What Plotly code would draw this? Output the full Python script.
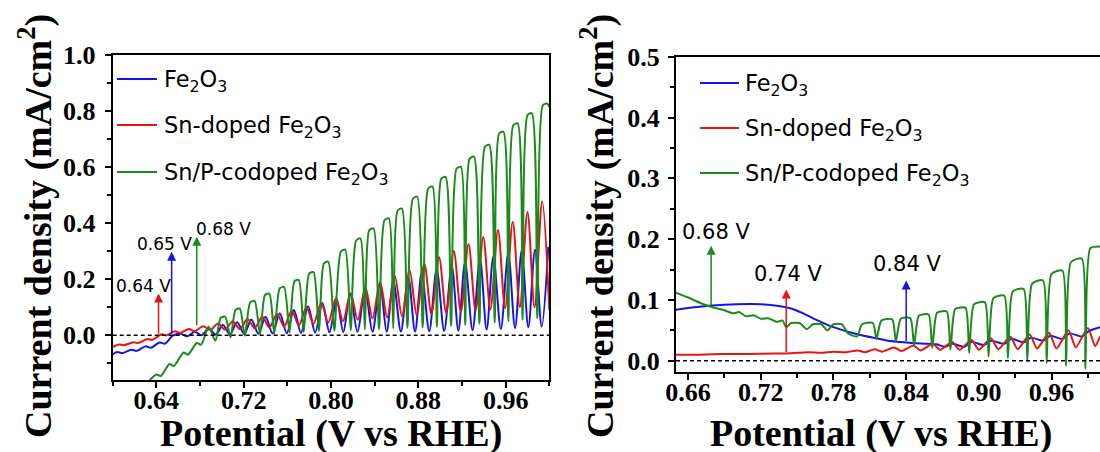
import plotly.graph_objects as go

# ---------------- Left panel data (V vs RHE, mA/cm2) ----------------
L_FE_X = [0.600, 0.604, 0.609, 0.617, 0.622, 0.630, 0.635, 0.643, 0.648, 0.655,
          0.662, 0.6685, 0.675, 0.6815, 0.688, 0.6945, 0.701, 0.7075, 0.714, 0.7205,
          0.727, 0.7335, 0.740, 0.7465, 0.753, 0.7595, 0.766, 0.7725, 0.779, 0.7855,
          0.7921, 0.7986, 0.8052, 0.8113, 0.8174, 0.8243, 0.8312, 0.838, 0.8449, 0.851,
          0.8571, 0.864, 0.8708, 0.877, 0.8831, 0.890, 0.8968, 0.9037, 0.9106, 0.9167,
          0.9228, 0.9297, 0.9365, 0.9426, 0.9487, 0.9556, 0.9624, 0.9686, 0.9747, 0.9808,
          0.9869, 0.993, 0.9991]
L_FE_Y = [-0.068, -0.060, -0.064, -0.052, -0.056, -0.040, -0.045, -0.026, -0.030, -0.002,
          0.005, -0.004, 0.012, 0.000, 0.024, 0.002, 0.036, 0.003, 0.046, 0.004,
          0.056, 0.005, 0.066, 0.006, 0.078, 0.007, 0.090, 0.008, 0.103, 0.009,
          0.115, 0.010, 0.128, 0.011, 0.148, 0.012, 0.165, 0.012, 0.183, 0.012,
          0.195, 0.013, 0.207, 0.013, 0.222, 0.014, 0.236, 0.015, 0.248, 0.016,
          0.260, 0.018, 0.272, 0.020, 0.280, 0.022, 0.292, 0.025, 0.302, 0.028,
          0.305, 0.030, 0.315]

L_SN_X = [0.600, 0.606, 0.610, 0.619, 0.623, 0.632, 0.636, 0.645, 0.649, 0.657,
          0.662, 0.670, 0.675, 0.683, 0.6895, 0.6965, 0.703, 0.710, 0.7165, 0.7235,
          0.730, 0.737, 0.7435, 0.7505, 0.757, 0.764, 0.7705, 0.7775, 0.784, 0.791,
          0.7975, 0.8045, 0.811, 0.818, 0.8245, 0.8315, 0.838, 0.845, 0.8515, 0.8585,
          0.865, 0.872, 0.8785, 0.8855, 0.892, 0.899, 0.9055, 0.9125, 0.919, 0.926,
          0.9325, 0.9395, 0.946, 0.953, 0.9595, 0.9665, 0.973, 0.980, 0.9865, 0.9935,
          1.000]
L_SN_Y = [-0.042, -0.033, -0.036, -0.025, -0.028, -0.014, -0.017, 0.003, -0.001, 0.014,
          0.008, 0.022, 0.014, 0.032, 0.018, 0.042, 0.020, 0.050, 0.022, 0.058,
          0.025, 0.066, 0.028, 0.076, 0.031, 0.088, 0.035, 0.100, 0.040, 0.115,
          0.045, 0.132, 0.050, 0.150, 0.055, 0.170, 0.060, 0.190, 0.064, 0.210,
          0.068, 0.232, 0.072, 0.255, 0.076, 0.278, 0.080, 0.300, 0.084, 0.325,
          0.088, 0.350, 0.092, 0.375, 0.096, 0.405, 0.100, 0.440, 0.100, 0.478,
          0.090]

# Sn/P-codoped: light-on plateaus read as (start, end) pairs, dark troughs between
L_SNP_X = [0.634, 0.640, 0.644, 0.652, 0.656, 0.665, 0.669, 0.677, 0.681, 0.688, 0.694,
           0.699, 0.703, 0.708, 0.7125, 0.7165, 0.721, 0.726, 0.730, 0.735,
           0.7395, 0.7435, 0.748, 0.753, 0.757, 0.762, 0.7665, 0.7705, 0.775,
           0.780, 0.784, 0.789, 0.7935, 0.7975, 0.803, 0.809, 0.813, 0.818,
           0.823, 0.827, 0.831, 0.835, 0.839, 0.844, 0.849, 0.853, 0.857,
           0.861, 0.865, 0.870, 0.875, 0.879, 0.884, 0.889, 0.893, 0.897,
           0.901, 0.905, 0.910, 0.915, 0.919, 0.923, 0.927, 0.931, 0.936,
           0.941, 0.945, 0.950, 0.954, 0.958, 0.9625, 0.967, 0.971, 0.9755,
           0.980, 0.984, 0.989, 0.994, 0.998, 1.000]
L_SNP_Y = [-0.160, -0.140, -0.146, -0.103, -0.110, -0.062, -0.070, -0.028, -0.034, 0.030, -0.020,
           0.062, 0.066, -0.008, 0.090, 0.095, -0.002, 0.117, 0.122, 0.003,
           0.143, 0.148, 0.006, 0.167, 0.172, 0.009, 0.192, 0.197, 0.012,
           0.220, 0.225, 0.014, 0.256, 0.262, 0.016, 0.298, 0.305, 0.018,
           0.338, 0.345, 0.020, 0.374, 0.381, 0.022, 0.410, 0.417, 0.024,
           0.445, 0.452, 0.026, 0.487, 0.494, 0.028, 0.523, 0.530, 0.030,
           0.558, 0.565, 0.033, 0.594, 0.601, 0.036, 0.630, 0.637, 0.040,
           0.672, 0.679, 0.045, 0.719, 0.726, 0.050, 0.749, 0.756, 0.055,
           0.785, 0.792, 0.060, 0.820, 0.827, 0.815]

# ---------------- Right panel data ----------------
R_FE_X = [0.650, 0.665, 0.680, 0.700, 0.720, 0.735, 0.745, 0.755, 0.765, 0.775,
          0.785, 0.795, 0.805, 0.815, 0.825, 0.835, 0.845, 0.855, 0.865, 0.872,
          0.878, 0.888, 0.894, 0.904, 0.910, 0.921, 0.927, 0.937, 0.943, 0.953,
          0.959, 0.969, 0.975, 0.985, 0.991, 1.000]
R_FE_Y = [0.084, 0.088, 0.091, 0.093, 0.093, 0.090, 0.086, 0.078, 0.068, 0.059,
          0.052, 0.046, 0.041, 0.037, 0.033, 0.031, 0.029, 0.028, 0.027, 0.023,
          0.028, 0.023, 0.031, 0.026, 0.033, 0.028, 0.036, 0.030, 0.038, 0.033,
          0.041, 0.036, 0.045, 0.040, 0.049, 0.055]

R_SN_X = [0.650, 0.670, 0.690, 0.710, 0.730, 0.740, 0.750, 0.760, 0.770, 0.780,
          0.790, 0.800, 0.806, 0.814, 0.820, 0.830, 0.836, 0.846, 0.852, 0.862,
          0.868, 0.878, 0.884, 0.894, 0.900, 0.910, 0.916, 0.926, 0.932, 0.942,
          0.948, 0.958, 0.964, 0.974, 0.980, 0.990, 0.996, 1.000]
R_SN_Y = [0.010, 0.010, 0.011, 0.011, 0.012, 0.012, 0.013, 0.014, 0.013, 0.015,
          0.014, 0.017, 0.014, 0.019, 0.015, 0.022, 0.016, 0.025, 0.017, 0.028,
          0.018, 0.031, 0.018, 0.034, 0.018, 0.037, 0.019, 0.040, 0.019, 0.043,
          0.020, 0.046, 0.020, 0.050, 0.022, 0.054, 0.024, 0.040]

R_SNP_X = [0.650, 0.660, 0.670, 0.680, 0.690, 0.697, 0.702, 0.708, 0.714, 0.720,
           0.726, 0.733, 0.738, 0.741, 0.745, 0.752, 0.758, 0.763, 0.770, 0.775,
           0.780, 0.787, 0.792, 0.7995, 0.8035, 0.8125, 0.8155, 0.8195, 0.8285, 0.8315,
           0.8355, 0.8435, 0.8465, 0.8505, 0.8585, 0.8615, 0.8655, 0.8735, 0.8765, 0.8805,
           0.889, 0.892, 0.896, 0.905, 0.908, 0.912, 0.921, 0.924, 0.928, 0.937,
           0.940, 0.944, 0.953, 0.956, 0.960, 0.969, 0.972, 0.976, 0.985, 0.988,
           0.992, 1.000]
R_SNP_Y = [0.112, 0.104, 0.095, 0.088, 0.083, 0.078, 0.080, 0.073, 0.075, 0.069,
           0.070, 0.064, 0.066, 0.055, 0.062, 0.062, 0.052, 0.060, 0.060, 0.050,
           0.060, 0.060, 0.045, 0.040, 0.060, 0.062, 0.036, 0.066, 0.068, 0.032,
           0.069, 0.070, 0.025, 0.074, 0.076, 0.021, 0.079, 0.081, 0.018, 0.085,
           0.087, 0.013, 0.093, 0.096, 0.007, 0.103, 0.107, 0.004, 0.114, 0.118,
           -0.001, 0.127, 0.132, -0.004, 0.143, 0.148, -0.008, 0.162, 0.168, -0.013,
           0.185, 0.188]

NAMES = ["Fe<sub>2</sub>O<sub>3</sub>", "Sn-doped Fe<sub>2</sub>O<sub>3</sub>",
         "Sn/P-codoped Fe<sub>2</sub>O<sub>3</sub>"]
COLORS = ["#1414e6", "#e61414", "#1a8a1a"]

# onset annotations: (potential, label)
L_ONSET = [(0.642, "0.64 V"), (0.654, "0.65 V"), (0.677, "0.68 V")]
R_ONSET = [(0.679, "0.68 V"), (0.741, "0.74 V"), (0.840, "0.84 V")]

W, H = 1100, 452
fig = go.Figure()

left = [(L_FE_X, L_FE_Y, 0.9), (L_SN_X, L_SN_Y, 0.9), (L_SNP_X, L_SNP_Y, 0.7)]
right = [(R_FE_X, R_FE_Y), (R_SN_X, R_SN_Y), (R_SNP_X, R_SNP_Y)]
for i, (xs, ys, sm) in enumerate(left):
    fig.add_trace(go.Scatter(x=xs, y=ys, mode="lines", name=NAMES[i], showlegend=False,
                             line=dict(color=COLORS[i], width=2, shape="spline", smoothing=sm),
                             xaxis="x", yaxis="y"))
for i, (xs, ys) in enumerate(right):
    fig.add_trace(go.Scatter(x=xs, y=ys, mode="lines", name=NAMES[i], showlegend=False,
                             line=dict(color=COLORS[i], width=2, shape="spline", smoothing=0.6),
                             xaxis="x2", yaxis="y2"))

tickfont = dict(family="Liberation Serif", size=26, color="black", weight="bold")
axcommon = dict(showline=True, linecolor="black", linewidth=2, mirror=True,
                ticks="outside", ticklen=6, tickwidth=2, tickcolor="black",
                showgrid=False, zeroline=False, tickfont=tickfont, automargin=False)
minor_common = dict(ticks="outside", ticklen=4, tickwidth=2, tickcolor="black", showgrid=False)

fig.update_layout(
    template="none",
    width=W, height=H, margin=dict(l=0, r=0, t=0, b=0, pad=0),
    paper_bgcolor="white", plot_bgcolor="white", showlegend=False,
    xaxis=dict(domain=[112.7 / W, 549.3 / W], range=[0.6, 1.0], anchor="y",
               tick0=0.64, dtick=0.08, tickformat=".2f", ticklabelstandoff=-10,
               minor=dict(dtick=0.04, tick0=0.64, **minor_common), **axcommon),
    yaxis=dict(domain=[1 - 380 / H, 1 - 55 / H], range=[-0.16, 1.0], anchor="x",
               tick0=0, dtick=0.2, tickformat=".1f", ticklabelstandoff=4,
               minor=dict(dtick=0.1, tick0=0, **minor_common), **axcommon),
    xaxis2=dict(domain=[676 / W, 1.0], range=[0.65, 1.0], anchor="y2",
                tick0=0.66, dtick=0.06, tickformat=".2f", ticklabelstandoff=-10,
                minor=dict(dtick=0.03, tick0=0.66, **minor_common), **axcommon),
    yaxis2=dict(domain=[1 - 371.7 / H, 1 - 56.7 / H], range=[-0.018, 0.5], anchor="x2",
                tick0=0, dtick=0.1, tickformat=".1f", ticklabelstandoff=3,
                minor=dict(dtick=0.05, tick0=0, **minor_common), **axcommon),
)

# dashed zero lines
for xr, yr in (("x", "y"), ("x2", "y2")):
    fig.add_shape(type="line", xref=xr + " domain", yref=yr, x0=0, x1=1, y0=0, y1=0,
                  line=dict(color="black", width=1.5, dash="4px,3px"))

# manual legends (line sample + label), positions in pixels
LEG = [((117, 157, 162), (79, 125, 172)), ((700, 739, 743), (83, 128, 173))]
for (xa, xb, xt), rows in LEG:
    for i, yy in enumerate(rows):
        fig.add_shape(type="line", xref="paper", yref="paper",
                      x0=xa / W, x1=xb / W, y0=1 - yy / H, y1=1 - yy / H,
                      line=dict(color=COLORS[i], width=2))
        fig.add_annotation(x=xt / W, y=1 - (yy + 2) / H, xref="paper", yref="paper",
                           text=NAMES[i], showarrow=False, xanchor="left", yanchor="middle",
                           font=dict(family="DejaVu Sans", size=22.5, color="black"))

# onset arrows, left panel
L_ARROW = [(0.0, 0.149), (0.0, 0.298), (0.030, 0.351)]
for i, ((xv, lab), (y0, y1)) in enumerate(zip(L_ONSET, L_ARROW)):
    fig.add_annotation(x=xv, y=y1, ax=xv, ay=y0, xref="x", yref="y", axref="x", ayref="y",
                       showarrow=True, arrowhead=2, arrowsize=1.2, arrowwidth=1.5,
                       arrowcolor=COLORS[[1, 0, 2][i]], text="")
L_TXT = [(0.6015, 0.175), (0.6205, 0.325), (0.6745, 0.38)]
for (xv, lab), (tx, ty) in zip(L_ONSET, L_TXT):
    fig.add_annotation(x=tx, y=ty, xref="x", yref="y", text=lab, showarrow=False,
                       xanchor="left", yanchor="middle",
                       font=dict(family="DejaVu Sans", size=17, color="black"))

# onset arrows, right panel
R_ARROW = [(0.089, 0.189), (0.012, 0.117), (0.030, 0.132)]
for i, ((xv, lab), (y0, y1)) in enumerate(zip(R_ONSET, R_ARROW)):
    fig.add_annotation(x=xv, y=y1, ax=xv, ay=y0, xref="x2", yref="y2", axref="x2", ayref="y2",
                       showarrow=True, arrowhead=2, arrowsize=1.2, arrowwidth=1.5,
                       arrowcolor=COLORS[[2, 1, 0][i]], text="")
R_TXT = [(0.653, 0.212), (0.713, 0.142), (0.811, 0.159)]
for (xv, lab), (tx, ty) in zip(R_ONSET, R_TXT):
    fig.add_annotation(x=tx, y=ty, xref="x2", yref="y2", text=lab, showarrow=False,
                       xanchor="left", yanchor="middle",
                       font=dict(family="DejaVu Sans", size=21, color="black"))

# axis titles
titlefont = dict(family="Liberation Serif", size=38, color="black")
for cx in (331, 881):
    fig.add_annotation(x=cx / W, y=1 - 433 / H, xref="paper", yref="paper",
                       text="<b>Potential (V vs RHE)</b>", showarrow=False,
                       xanchor="center", yanchor="middle", font=titlefont)
for cx in (35, 597):
    fig.add_annotation(x=cx / W, y=1 - 226 / H, xref="paper", yref="paper",
                       text="<b>Current density (mA/cm<sup>2</sup>)</b>", showarrow=False,
                       textangle=-90, xanchor="center", yanchor="middle", font=titlefont)

fig.write_html("out.html")
